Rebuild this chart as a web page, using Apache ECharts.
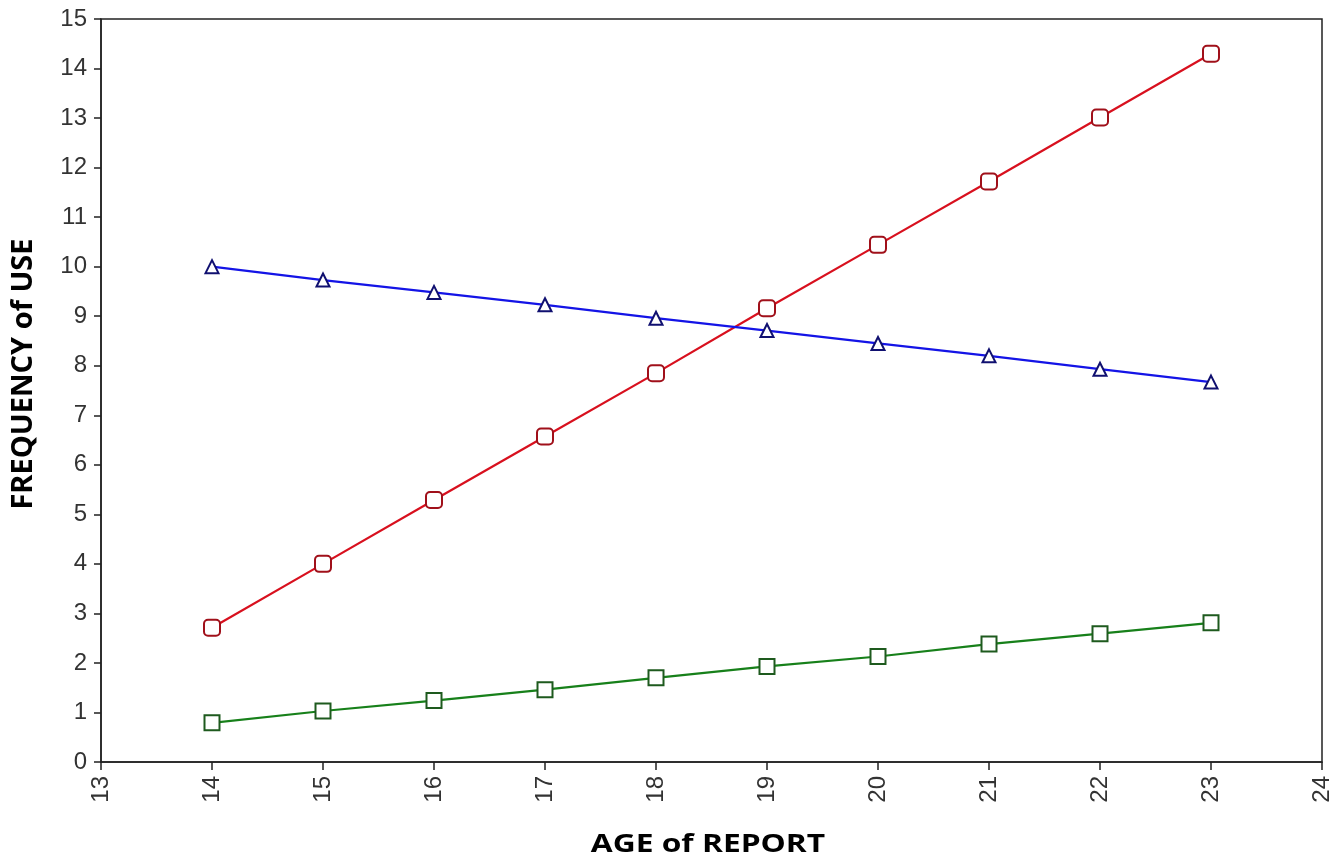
<!DOCTYPE html>
<html><head><meta charset="utf-8">
<script src="https://cdn.jsdelivr.net/npm/echarts@6/dist/echarts.min.js"></script>
<style>html,body{margin:0;padding:0;background:#fff}#c{width:1342px;height:860px}</style>
</head><body><div id="c"></div>
<script>
const ages = [14, 15, 16, 17, 18, 19, 20, 21, 22, 23];
const redValues = [2.71, 4.0, 5.29, 6.57, 7.85, 9.16, 10.44, 11.72, 13.01, 14.3];
const blueValues = [10.0, 9.73, 9.48, 9.23, 8.96, 8.71, 8.45, 8.2, 7.93, 7.67];
const greenValues = [0.79, 1.03, 1.24, 1.46, 1.7, 1.93, 2.13, 2.38, 2.59, 2.81];
const xTitle = 'AGE of REPORT';
const yTitle = 'FREQUENCY of USE';

const pairs = v => ages.map((a, i) => [a, v[i]]);
const chart = echarts.init(document.getElementById('c'));
const labelFont = {fontFamily: 'Liberation Sans, Arial, sans-serif', fontSize: 24, color: '#333'};
function series(data, color, border, symbol, size) {
  return {
    type: 'line', data: pairs(data), symbol: symbol, symbolSize: size,
    lineStyle: {color: color, width: 2.2},
    itemStyle: {color: '#fff', borderColor: border, borderWidth: 2},
    emphasis: {disabled: true}, z: 3
  };
}
chart.setOption({
  animation: false,
  grid: {left: 101, right: 20, top: 19, bottom: 98, show: true, borderColor: '#222', borderWidth: 1.5, backgroundColor: '#fff'},
  xAxis: {
    type: 'value', min: 13, max: 24, interval: 1,
    axisLine: {lineStyle: {color: '#222', width: 1.5}},
    axisTick: {length: 8, lineStyle: {color: '#222', width: 1.5}},
    splitLine: {show: false},
    axisLabel: Object.assign({rotate: 90, margin: 14}, labelFont)
  },
  yAxis: {
    type: 'value', min: 0, max: 15, interval: 1,
    axisLine: {show: true, lineStyle: {color: '#222', width: 1.5}},
    axisTick: {show: true, length: 7, lineStyle: {color: '#222', width: 1.5}},
    splitLine: {show: false},
    axisLabel: Object.assign({margin: 14}, labelFont)
  },
  graphic: [
    {type: 'text', x: 708, y: 845, scaleX: 1.27,
     style: {text: xTitle, font: 'bold 25px "Open Sans", "Liberation Sans", sans-serif', fill: '#000', align: 'center', verticalAlign: 'middle'}},
    {type: 'text', x: 24, y: 374, rotation: Math.PI / 2,
     style: {text: yTitle, font: 'bold 29px "Open Sans", "Liberation Sans", sans-serif', fill: '#000', align: 'center', verticalAlign: 'middle'}}
  ],
  series: [
    series(greenValues, '#17801a', '#1e5a1e', 'rect', 15),
    series(redValues, '#d8101e', '#a0101a', 'roundRect', 16),
    series(blueValues, '#1414e6', '#101070', 'triangle', 13)
  ]
});
</script></body></html>
